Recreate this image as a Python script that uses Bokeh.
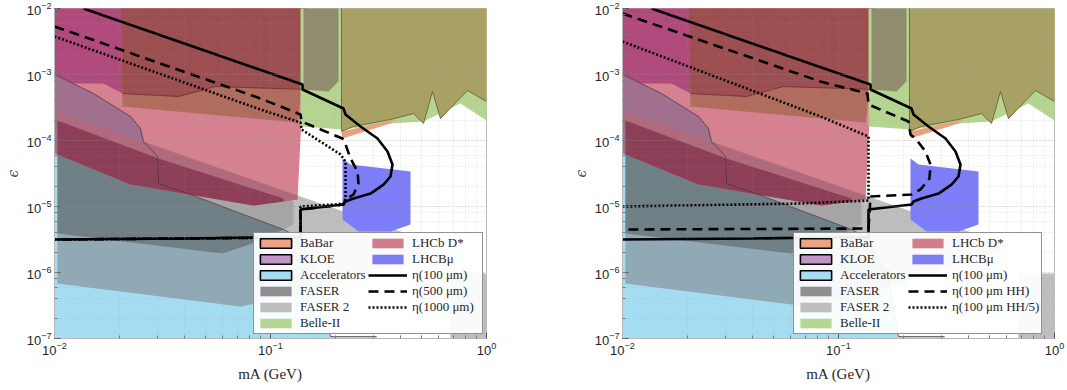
from bokeh.plotting import figure
from bokeh.layouts import row
from bokeh.models import Range1d, Legend, LegendItem, LogTicker, FixedTicker
from bokeh.embed import file_html
from bokeh.resources import INLINE

# ------------------------------------------------------------------
# Exclusion regions: (m_A [GeV], epsilon)
# Each list describes a visible patch (overlaps of the experiments)
# ------------------------------------------------------------------
acc_m = [0.0095, 0.0100, 0.01515, 0.02248, 0.02501, 0.02582, 0.02998, 0.0303, 0.04262, 0.1149, 0.1377, 0.1704, 0.1896, 0.3095, 0.33, 0.0095]
acc_e = [1.0e-3, 1.0e-3, 5.15e-4, 2.31e-4, 1.52e-4, 9.66e-5, 5.72e-5, 2.23e-5, 1.52e-5, 4.48e-6, 3.28e-6, 7.31e-7, 1.07e-7, 1.07e-7, 5e-8, 5e-8]

faser2_m = [0.01032, 0.4949, 0.5623, 0.1377, 0.07261, 0.01032]
faser2_e = [2.75e-4, 3.28e-6, 2.08e-6, 4.81e-7, 3.05e-7, 6.81e-7]

faser2_hi_m = [0.6813, 1.2, 1.2, 0.6813]
faser2_hi_e = [9.66e-7, 9.66e-7, 5e-8, 5e-8]

faser2_acc_m = [0.01032, 0.02582, 0.02998, 0.0303, 0.04262, 0.1149, 0.1377, 0.1722, 0.1377, 0.07261, 0.01032]
faser2_acc_e = [2.75e-4, 9.66e-5, 5.72e-5, 2.23e-5, 1.52e-5, 4.48e-6, 3.28e-6, 6.14e-7, 4.81e-7, 3.05e-7, 6.81e-7]

faser_acc_m = [0.01032, 0.02998, 0.0303, 0.04262, 0.1149, 0.08252, 0.05995, 0.01032]
faser_acc_e = [2.01e-4, 5.53e-5, 2.23e-5, 1.52e-5, 4.48e-6, 2.75e-6, 1.94e-6, 3.90e-6]

faser_m = [0.0303, 0.1278, 0.1278, 0.1149, 0.04262, 0.0303]
faser_e = [5.34e-5, 1.19e-5, 5.34e-6, 4.48e-6, 1.52e-5, 2.23e-5]

lhcb_m = [0.0095, 0.149, 0.1334, 0.1149, 0.0834, 0.03955, 0.02248, 0.01032, 0.0095]
lhcb_e = [0.02, 0.02, 1.28e-5, 1.19e-5, 1.035e-5, 1.57e-5, 2.15e-5, 6.14e-5, 6.81e-5]

lhcb_acc_m = [0.0095, 0.0100, 0.01515, 0.02248, 0.02501, 0.02582, 0.02998, 0.0303, 0.02248, 0.01032, 0.0095]
lhcb_acc_e = [1.0e-3, 1.0e-3, 5.15e-4, 2.31e-4, 1.52e-4, 9.66e-5, 5.72e-5, 2.23e-5, 2.15e-5, 6.14e-5, 6.81e-5]

lhcb_f2_m = [0.01032, 0.1334, 0.1334, 0.1149, 0.0834, 0.03955, 0.02248, 0.01032]
lhcb_f2_e = [2.75e-4, 1.47e-5, 1.28e-5, 1.19e-5, 1.035e-5, 1.57e-5, 2.15e-5, 6.14e-5]

lhcb_faser_m = [0.01032, 0.0303, 0.1149, 0.1149, 0.0834, 0.03955, 0.02248, 0.01032]
lhcb_faser_e = [2.01e-4, 5.34e-5, 1.32e-5, 1.19e-5, 1.035e-5, 1.57e-5, 2.15e-5, 6.14e-5]

kloe_m = [0.0095, 0.02021, 0.02064, 0.01686, 0.01225, 0.0100, 0.0095]
kloe_e = [0.02, 0.02, 5.15e-4, 7.31e-4, 7.31e-4, 1.0e-3, 1.0e-3]

babar_lhcb_m = [0.02021, 0.149, 0.1392, 0.1334, 0.02064]
babar_lhcb_e = [0.02, 0.02, 5.93e-4, 1.87e-4, 3.28e-4]

babar_kloe_m = [0.02021, 0.149, 0.1407, 0.05565, 0.04592, 0.03751, 0.02064]
babar_kloe_e = [0.02, 0.02, 5.93e-4, 6.58e-4, 5.53e-4, 4.64e-4, 5.15e-4]

belle_m = [0.1377, 1.2, 1.2, 1.0, 0.7579, 0.5109, 0.3594, 0.2178, 0.1377]
belle_e = [0.02, 0.02, 2.01e-4, 2.01e-4, 3.64e-4, 1.94e-4, 1.81e-4, 1.47e-4, 1.63e-4]

kloe_belle_m = [0.1422, 0.2064, 0.2064, 0.1856, 0.1422]
kloe_belle_e = [0.02, 0.02, 7.83e-4, 5.53e-4, 5.93e-4]

babar_belle_m = [0.2132, 1.2, 1.2, 1.0, 0.8166, 0.6124, 0.5623, 0.5109, 0.4592, 0.3594, 0.2423, 0.2132]
babar_belle_e = [0.02, 0.02, 3.9e-4, 3.9e-4, 5.72e-4, 2.15e-4, 5.53e-4, 1.81e-4, 2.56e-4, 2.08e-4, 1.63e-4, 1.37e-4]

babar_m = [0.2132, 0.3791, 0.3594, 0.2154]
babar_e = [1.37e-4, 2.08e-4, 1.81e-4, 1.07e-4]

lhcbmu_m = [0.2154, 0.2347, 0.4448, 0.4448, 0.3594, 0.2555, 0.2154]
lhcbmu_e = [5.34e-5, 4.33e-5, 3.39e-5, 5.34e-6, 4.18e-6, 4.18e-6, 6.35e-6]

# outlines
kloe_edge_m = [0.02064, 0.03751, 0.04592, 0.05565, 0.1407]
kloe_edge_e = [5.15e-4, 4.64e-4, 5.53e-4, 6.58e-4, 5.93e-4]
babar_edge_m = [0.2132, 0.2132, 0.2423, 0.3594, 0.4592, 0.5109, 0.5623, 0.6124, 0.8166, 1.0]
babar_edge_e = [0.02, 1.37e-4, 1.63e-4, 2.08e-4, 2.56e-4, 1.81e-4, 5.53e-4, 2.15e-4, 5.72e-4, 3.9e-4]

# ------------------------------------------------------------------
# Sensitivity curves
# ------------------------------------------------------------------
eta100_m = [0.01362, 0.08078, 0.1407, 0.1407, 0.2178, 0.2225, 0.2610, 0.3129, 0.3481, 0.3671, 0.3594, 0.3335, 0.2904, 0.2423, 0.2225, 0.2178, 0.1377, 0.1377, 0.0870, 0.04041, 0.0100]
eta100_e = [1.0e-2, 1.322e-3, 7.06e-4, 5.93e-4, 3.05e-4, 2.48e-4, 1.63e-4, 1.07e-4, 6.81e-5, 4.33e-5, 2.85e-5, 2.15e-5, 1.57e-5, 1.32e-5, 1.19e-5, 1.07e-5, 9.01e-6, 3.39e-6, 3.39e-6, 3.28e-6, 3.16e-6]

eta500_m = [0.0100, 0.0899, 0.1377, 0.1392, 0.2154, 0.2225, 0.2347, 0.2528, 0.2555, 0.2423, 0.2225, 0.2178, 0.1377, 0.1377, 0.0100]
eta500_e = [5.34e-3, 4.33e-4, 2.48e-4, 1.94e-4, 1.07e-4, 8.70e-5, 5.34e-5, 3.39e-5, 2.23e-5, 1.52e-5, 1.28e-5, 1.07e-5, 9.01e-6, 3.39e-6, 3.16e-6]

eta1000_m = [0.0100, 0.0899, 0.1377, 0.1392, 0.2109, 0.2225, 0.2225, 0.2178, 0.1377, 0.1377, 0.0100]
eta1000_e = [3.77e-3, 2.95e-4, 1.87e-4, 1.47e-4, 6.14e-5, 4.81e-5, 1.32e-5, 1.1e-5, 1.0e-5, 3.39e-6, 3.16e-6]

etaHH_m = [0.0100, 0.08252, 0.1362, 0.1377, 0.2109, 0.2154, 0.2273, 0.2528, 0.2666, 0.2638, 0.2397, 0.2178, 0.1407, 0.1377, 0.0100]
etaHH_e = [8.40e-3, 7.83e-4, 5.15e-4, 3.51e-4, 1.94e-4, 1.23e-4, 1.07e-4, 6.81e-5, 4.33e-5, 2.66e-5, 1.81e-5, 1.52e-5, 1.42e-5, 4.64e-6, 4.48e-6]

etaHH5_m = [0.0100, 0.08252, 0.1377, 0.1377, 0.06669, 0.0100]
etaHH5_e = [3.16e-3, 2.31e-4, 1.15e-4, 1.23e-5, 1.11e-5, 1.0e-5]

# axis ticks
x_major_ticks = [0.01, 0.1, 1.0]
x_minor_ticks = [0.02, 0.03, 0.04, 0.05, 0.06, 0.07, 0.08, 0.09,
                 0.2, 0.3, 0.4, 0.5, 0.6, 0.7, 0.8, 0.9]

# legend entries
legend_regions = ["BaBar", "KLOE", "Accelerators", "FASER", "FASER 2", "Belle-II", "LHCb D*", "LHCBμ"]
legend_colors = ["#EBA383", "#C096C6", "#A5DDF3", "#8F8F8F", "#BEBEBE", "#B8D693", "#D07E8D", "#7D7DF6"]
legend_edges = [True, True, True, False, False, False, False, False]
left_curve_labels = ["η(100 μm)", "η(500 μm)", "η(1000 μm)"]
right_curve_labels = ["η(100 μm)", "η(100 μm HH)", "η(100 μm HH/5)"]

# ------------------------------------------------------------------
REGIONS = [
    (acc_m, acc_e, "#A4DCF2"),
    (faser2_m, faser2_e, "#BEBEBE"),
    (faser2_hi_m, faser2_hi_e, "#BEBEBE"),
    (faser2_acc_m, faser2_acc_e, "#8FAAB6"),
    (faser_acc_m, faser_acc_e, "#6F7F86"),
    (faser_m, faser_e, "#A6A6A6"),
    (lhcb_m, lhcb_e, "#D5818F"),
    (lhcb_acc_m, lhcb_acc_e, "#A1708E"),
    (lhcb_f2_m, lhcb_f2_e, "#B06A7C"),
    (lhcb_faser_m, lhcb_faser_e, "#8C3F56"),
    (kloe_m, kloe_e, "#B04A7C"),
    (babar_lhcb_m, babar_lhcb_e, "#B06C5C"),
    (babar_kloe_m, babar_kloe_e, "#9C4E50"),
    (belle_m, belle_e, "#B5D48F"),
    (kloe_belle_m, kloe_belle_e, "#8F8D6D"),
    (babar_belle_m, babar_belle_e, "#A9A163"),
    (babar_m, babar_e, "#E8A07E"),
    (lhcbmu_m, lhcbmu_e, "#7D7DF8"),
]

SOLID = dict(line_color="black", line_width=2.6)
DASHED = dict(line_color="black", line_width=2.6, line_dash="10 6")
DOTTED = dict(line_color="black", line_width=2.6, line_dash="2 2")


def make_fig(width, border_left, border_right, curves, curve_labels, legend_xy):
    p = figure(width=width, height=390, x_axis_type="log", y_axis_type="log",
               x_range=Range1d(0.01, 1.0), y_range=Range1d(1e-7, 1e-2),
               output_backend="svg", toolbar_location=None,
               min_border_left=border_left, min_border_right=border_right,
               min_border_top=8, min_border_bottom=52,
               background_fill_color="white", border_fill_color="white")
    p.outline_line_color = "#b8b8b8"

    for m, e, c in REGIONS:
        p.patch(m, e, fill_color=c, fill_alpha=1.0, line_color=None)

    p.line(acc_m[1:14], acc_e[1:14], line_color="#4A3038", line_width=0.9, line_alpha=0.8)
    p.line(kloe_edge_m, kloe_edge_e, line_color="#6B2535", line_width=0.9, line_alpha=0.8)
    p.line(babar_edge_m, babar_edge_e, line_color="#5E5C2A", line_width=0.9, line_alpha=0.9)

    (m1, e1), (m2, e2), (m3, e3) = curves
    r3 = p.line(m3, e3, **DOTTED)
    r2 = p.line(m2, e2, **DASHED)
    r1 = p.line(m1, e1, **SOLID)
    line_rends = [r1, r2, r3]

    # legend sample glyphs (outside visible ranges)
    swatch = {}
    for name, col, edge in zip(legend_regions, legend_colors, legend_edges):
        swatch[name] = p.quad(left=[1e-4], right=[2e-4], bottom=[1e-12], top=[2e-12],
                              fill_color=col, fill_alpha=1.0,
                              line_color="black" if edge else None, line_width=1.6)
    items = [LegendItem(label=n, renderers=[swatch[n]]) for n in legend_regions[:6]]
    items += [LegendItem(label=n, renderers=[swatch[n]]) for n in legend_regions[6:]]
    items += [LegendItem(label=l, renderers=[r]) for l, r in zip(curve_labels, line_rends)]

    leg = Legend(items=items, location=legend_xy, ncols=2, orientation="vertical",
                 glyph_width=39, glyph_height=12, label_height=12, label_width=68,
                 label_standoff=5, spacing=0, padding=2, margin=0,
                 border_line_color="#262626", border_line_width=1,
                 background_fill_color="white", background_fill_alpha=0.92,
                 label_text_font="Liberation Serif", label_text_font_size="13px",
                 label_text_color="#262626")
    p.add_layout(leg)

    for ax in (p.xaxis, p.yaxis):
        ax.major_tick_in = 6
        ax.major_tick_out = 0
        ax.minor_tick_in = 3
        ax.minor_tick_out = 0
        ax.axis_line_color = "#b8b8b8"
        ax.major_tick_line_color = "#555555"
        ax.minor_tick_line_color = "#777777"
        ax.major_label_text_font = "Liberation Sans"
        ax.major_label_text_font_size = "13px"
        ax.major_label_text_color = "#262626"
        ax.major_label_standoff = 3
    p.xaxis.ticker = FixedTicker(ticks=x_major_ticks, minor_ticks=x_minor_ticks)
    p.yaxis.ticker = LogTicker(desired_num_ticks=6)
    p.xgrid.ticker = p.xaxis.ticker

    p.yaxis.axis_label = "ϵ"
    p.yaxis.axis_label_text_font = "DejaVu Serif"
    p.yaxis.axis_label_text_font_style = "italic"
    p.yaxis.axis_label_text_font_size = "14px"
    p.yaxis.axis_label_standoff = 3

    p.xaxis.axis_label = "mA (GeV)"
    p.xaxis.axis_label_text_font = "Liberation Serif"
    p.xaxis.axis_label_text_font_style = "normal"
    p.xaxis.axis_label_text_font_size = "15px"
    p.xaxis.axis_label_text_color = "#262626"
    p.xaxis.axis_label_standoff = 8

    for g in (p.xgrid, p.ygrid):
        g.level = "guide"
        g.grid_line_color = "#9a9a9a"
        g.grid_line_alpha = 0.45
        g.grid_line_dash = "1 2"
        g.minor_grid_line_color = "#9a9a9a"
        g.minor_grid_line_alpha = 0.3
        g.minor_grid_line_dash = "1 2"
    return p


p1 = make_fig(566, 54, 80,
              [(eta100_m, eta100_e), (eta500_m, eta500_e), (eta1000_m, eta1000_e)],
              left_curve_labels, (199, 4))
p2 = make_fig(501, 56, 13,
              [(eta100_m, eta100_e), (etaHH_m, etaHH_e), (etaHH5_m, etaHH5_e)],
              right_curve_labels, (171, 4))

layout = row(p1, p2)
open("out.html", "w").write(file_html(layout, INLINE))
